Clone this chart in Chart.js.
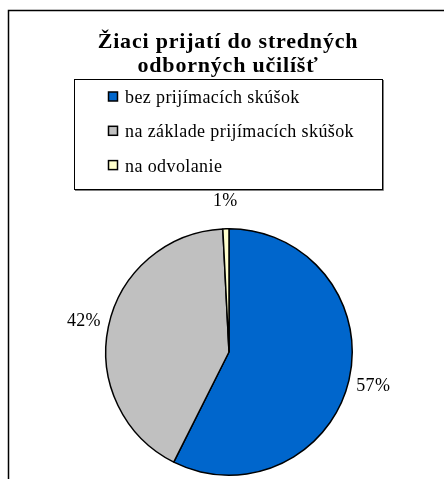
<!DOCTYPE html>
<html>
<head>
<meta charset="utf-8">
<script src="https://cdn.jsdelivr.net/npm/chart.js@4.4.1/dist/chart.umd.min.js"></script>
<style>
  html, body { margin: 0; padding: 0; background: #fff; }
  canvas { display: block; }
</style>
</head>
<body>
<canvas id="pieChart" width="444" height="479"></canvas>
<script>
// data
const titleLines = ["Žiaci prijatí do stredných", "odborných učilíšť"]
const categories = ["bez prijímacích skúšok", "na základe prijímacích skúšok", "na odvolanie"]
const shares = [57.4, 41.8, 0.8]
const shareLabels = ["57%", "42%", "1%"]
const colors = ["#0066CC", "#C0C0C0", "#FFFFCC"]

const serif = "'Liberation Serif', 'Times New Roman', serif"

// frame, title, legend box and percent labels
const decor = {
  id: "decor",
  beforeDraw(chart) {
    const ctx = chart.ctx
    ctx.save()
    ctx.fillStyle = "#fff"
    ctx.fillRect(0, 0, chart.width, chart.height)
    ctx.strokeStyle = "#000"
    ctx.lineWidth = 1.5
    ctx.beginPath()
    ctx.moveTo(8.5, chart.height)
    ctx.lineTo(8.5, 10.5)
    ctx.lineTo(chart.width, 10.5)
    ctx.stroke()
    ctx.restore()
  },
  afterDraw(chart) {
    const ctx = chart.ctx
    ctx.save()
    ctx.fillStyle = "#000"
    ctx.textAlign = "center"
    ctx.textBaseline = "alphabetic"

    // title
    ctx.font = "bold 22px " + serif
    ctx.letterSpacing = "0.8px"
    titleLines.forEach((t, i) => ctx.fillText(t, 228, 48 + i * 24))

    // legend box
    ctx.letterSpacing = "0px"
    ctx.strokeStyle = "#000"
    ctx.lineWidth = 1
    ctx.strokeRect(74.5, 79.5, 308, 110)
    ctx.strokeStyle = "#808080"
    ctx.beginPath()
    ctx.moveTo(383.5, 80)
    ctx.lineTo(383.5, 190.5)
    ctx.lineTo(75, 190.5)
    ctx.stroke()

    ctx.textAlign = "left"
    ctx.font = "18px " + serif
    ctx.letterSpacing = "0.4px"
    categories.forEach((c, i) => {
      const base = 103 + i * 34.3
      ctx.fillStyle = colors[i]
      ctx.fillRect(108.5, base - 11, 9, 9)
      ctx.strokeStyle = "#000"
      ctx.lineWidth = 1.5
      ctx.strokeRect(108.5, base - 11, 9, 9)
      ctx.fillStyle = "#000"
      ctx.fillText(c, 125, base)
    })

    // percent labels outside the slices
    ctx.font = "18px " + serif
    ctx.letterSpacing = "0.3px"
    ctx.textAlign = "center"
    ctx.textBaseline = "middle"
    const meta = chart.getDatasetMeta(0)
    meta.data.forEach((arc, i) => {
      const p = arc.getProps(["x", "y", "startAngle", "endAngle", "outerRadius"], true)
      const mid = (p.startAngle + p.endAngle) / 2
      const r = p.outerRadius + (i === 2 ? 28 : 25)
      const x = p.x + Math.cos(mid) * r
      const y = p.y + Math.sin(mid) * r
      ctx.fillText(shareLabels[i], x, y)
    })
    ctx.restore()
  },
}

const pieCtx = document.getElementById("pieChart")
new Chart(pieCtx, {
  type: "pie",
  data: {
    labels: categories,
    datasets: [
      {
        data: shares,
        backgroundColor: colors,
        borderColor: "#000",
        borderWidth: 1.5,
      },
    ],
  },
  options: {
    responsive: false,
    animation: false,
    devicePixelRatio: 1,
    layout: {
      padding: { left: 105, right: 91, top: 228, bottom: 3 },
    },
    plugins: {
      legend: { display: false },
      tooltip: { enabled: false },
      title: { display: false },
    },
  },
  plugins: [decor],
})
</script>
</body>
</html>
